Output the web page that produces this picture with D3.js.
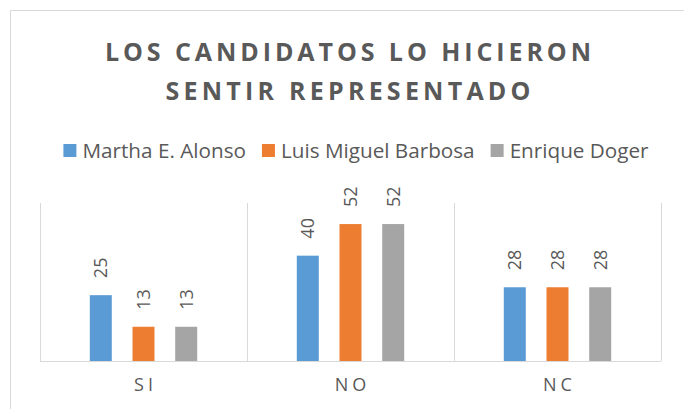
<!DOCTYPE html>
<html>
<head>
<meta charset="utf-8">
<script src="https://cdn.jsdelivr.net/npm/d3@7"></script>
<style>
  html, body { margin: 0; padding: 0; background: #fff; }
  text { font-family: "Open Sans", sans-serif; fill: #595959; }
</style>
</head>
<body>
<div id="chart"></div>
<script>
// data
const categories = ['SI', 'NO', 'NC'];
const seriesNames = ['Martha E. Alonso', 'Luis Miguel Barbosa', 'Enrique Doger'];
const martha = [25, 40, 28];
const luis = [13, 52, 28];
const enrique = [13, 52, 28];
const titleLines = ['LOS CANDIDATOS LO HICIERON', 'SENTIR REPRESENTADO'];

!(function () {
  'use strict';
  // - - - - - - - - - -
  let
    svg = undefined,
    x0 = undefined,
    x1 = undefined,
    y = undefined,
    colors = ['#5B9BD5', '#ED7D31', '#A5A5A5'],
    values = [martha, luis, enrique],
    canvas = { width: 684, height: 409 },
    plot = { left: 40, right: 661, top: 203, bottom: 361 };

  svg = d3.select('#chart')
    .append('svg')
    .attr('width', canvas.width)
    .attr('height', canvas.height);

  // chart border
  svg.append('rect')
    .attr('x', 10.5).attr('y', 10.5)
    .attr('width', 700).attr('height', 420)
    .attr('fill', 'none')
    .attr('stroke', '#D9D9D9');

  // title
  svg.selectAll('.title')
    .data(titleLines)
    .enter()
    .append('text')
    .attr('class', 'title')
    .attr('x', 348)
    .attr('y', function (d, i) { return 61 + i * 39; })
    .attr('text-anchor', 'middle')
    .attr('font-size', '25px')
    .attr('font-weight', 'bold')
    .attr('textLength', function (d, i) { return i === 0 ? 486 : 365; })
    .attr('lengthAdjust', 'spacing')
    .text(function (d) { return d; });

  // scales
  x0 = d3.scaleBand()
    .domain(categories)
    .range([plot.left, plot.right])
    .padding(0);

  x1 = d3.scaleBand()
    .domain(seriesNames)
    .range([0, x0.bandwidth()])
    .paddingInner(0.485)
    .paddingOuter(1.166);

  y = d3.scaleLinear()
    .domain([0, 60])
    .range([plot.bottom, plot.top]);

  // vertical grid lines between categories
  let edges = categories.map(function (c) { return x0(c); });
  edges.push(x0(categories[categories.length - 1]) + x0.bandwidth());
  svg.selectAll('.grid')
    .data(edges)
    .enter()
    .append('line')
    .attr('x1', function (d) { return Math.round(d) + 0.5; })
    .attr('x2', function (d) { return Math.round(d) + 0.5; })
    .attr('y1', plot.top)
    .attr('y2', plot.bottom)
    .attr('stroke', '#D9D9D9');

  // bars
  let groups = svg.selectAll('.series')
    .data(seriesNames)
    .enter()
    .append('g')
    .attr('class', 'series');

  groups.each(function (name, si) {
    let g = d3.select(this);
    let rows = categories.map(function (c, ci) { return { cat: c, v: values[si][ci] }; });

    g.selectAll('rect')
      .data(rows)
      .enter()
      .append('rect')
      .attr('x', function (d) { return x0(d.cat) + x1(name); })
      .attr('y', function (d) { return y(d.v); })
      .attr('width', x1.bandwidth())
      .attr('height', function (d) { return y(0) - y(d.v); })
      .attr('fill', colors[si]);

    g.selectAll('text')
      .data(rows)
      .enter()
      .append('text')
      .attr('transform', function (d) {
        let cx = x0(d.cat) + x1(name) + x1.bandwidth() / 2;
        return 'translate(' + cx + ',' + (y(d.v) - 17) + ') rotate(-90)';
      })
      .attr('dy', '0.36em')
      .attr('font-size', '18px')
      .text(function (d) { return d.v; });
  });

  // category axis
  let axis = svg.append('g')
    .attr('transform', 'translate(0,' + plot.bottom + ')')
    .call(d3.axisBottom(x0).tickSize(0).tickPadding(17));
  axis.select('.domain')
    .attr('stroke', '#D9D9D9')
    .attr('d', 'M' + plot.left + ',0.5H' + plot.right);
  axis.selectAll('text')
    .attr('fill', '#595959')
    .style('font-family', '"Open Sans", sans-serif')
    .style('font-size', '18px')
    .style('letter-spacing', '4px')
    .attr('dx', '2px');

  // legend
  let legend = svg.append('g');
  let items = legend.selectAll('g')
    .data(seriesNames)
    .enter()
    .append('g');
  items.append('rect')
    .attr('width', 13).attr('height', 13)
    .attr('y', 144)
    .attr('fill', function (d, i) { return colors[i]; });
  items.append('text')
    .attr('x', 19)
    .attr('y', 158)
    .attr('font-size', '20.7px')
    .text(function (d) { return d; });

  let offset = 0;
  let widths = [];
  items.each(function () {
    let w = d3.select(this).select('text').node().getComputedTextLength() + 19;
    widths.push(w);
  });
  let total = d3.sum(widths) + 16 * (widths.length - 1);
  offset = 356 - total / 2;
  items.attr('transform', function (d, i) {
    let x = offset;
    offset += widths[i] + 16;
    return 'translate(' + x + ',0)';
  });
  // - - - - - - - - - -
}());
</script>
</body>
</html>
